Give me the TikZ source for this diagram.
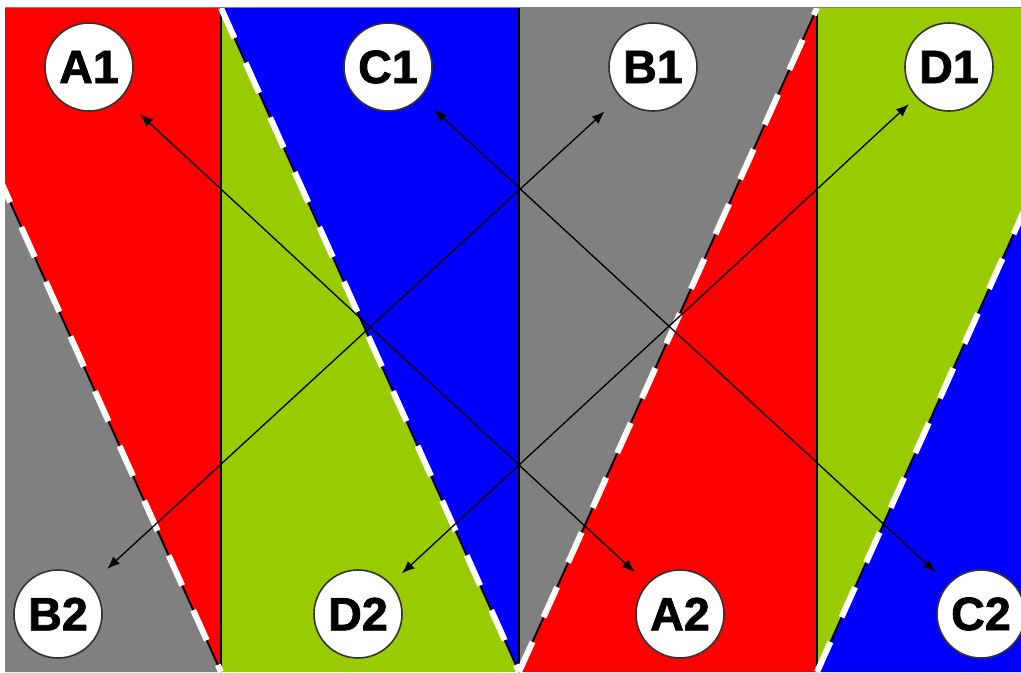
\documentclass[tikz,border=0pt]{standalone}
\usepackage{fontspec}
\setmainfont{Liberation Sans}
\newfontfamily\heavyfont[FakeBold=1.6]{Liberation Sans Bold}
\usetikzlibrary{arrows.meta}
\definecolor{cred}{HTML}{FF0000}
\definecolor{cgreen}{HTML}{99CC00}
\definecolor{cblue}{HTML}{0000FF}
\definecolor{cgray}{HTML}{808080}
\begin{document}
\begin{tikzpicture}[x=0.75pt,y=-0.75pt,
  lab/.style={circle,draw=black!80,line width=1.2pt,fill=white,minimum size=66pt,inner sep=0pt,
    font=\heavyfont\fontsize{35}{35}\selectfont},
  seamblack/.style={black,line width=1.4pt},
  seamwhite/.style={white,line width=4.5pt,dash pattern=on 24.75pt off 20.25pt},
  divider/.style={black,line width=1.5pt},
  arr/.style={{Latex[length=9.5pt,width=7.5pt]}-{Latex[length=9.5pt,width=7.5pt]},line width=1pt,black}]
\useasboundingbox (0,0) rectangle (1021,672);
\fill[white] (0,0) rectangle (1021,672);
\begin{scope}
\clip (5,8) rectangle (1021,672);
\fill[cred]   (-77,8) -- (221,8) -- (221,672) -- cycle;
\fill[cgray]  (-77,8) -- (221,672) -- (-77,672) -- cycle;
\fill[cgreen] (221,8) -- (519,672) -- (221,672) -- cycle;
\fill[cblue]  (221,8) -- (519,8) -- (519,672) -- cycle;
\fill[cgray]  (519,8) -- (817,8) -- (519,672) -- cycle;
\fill[cred]   (817,8) -- (817,672) -- (519,672) -- cycle;
\fill[cgreen] (817,8) -- (1115,8) -- (817,672) -- cycle;
\fill[cblue]  (1115,8) -- (1115,672) -- (817,672) -- cycle;
\draw[divider] (221,8) -- (221,672);
\draw[divider] (519,8) -- (519,672);
\draw[divider] (817,8) -- (817,672);
\draw[seamblack] (-77,8) -- (221,672);
\draw[seamwhite] (-77,8) -- (221,672);
\draw[seamblack] (221,8) -- (519,672);
\draw[seamwhite] (221,8) -- (519,672);
\draw[seamblack] (519,672) -- (817,8);
\draw[seamwhite] (519,672) -- (817,8);
\draw[seamblack] (817,672) -- (1115,8);
\draw[seamwhite] (817,672) -- (1115,8);
\end{scope}
\draw[black!50,line width=1.2pt] (5,7.5) -- (1021,7.5);
\node[lab] (A1) at (89,67) {A1};
\node[lab] (C1) at (388,67) {C1};
\node[lab] (B1) at (653,67) {B1};
\node[lab] (D1) at (949,67) {D1};
\node[lab] (B2) at (58,614) {B2};
\node[lab] (D2) at (358,614) {D2};
\node[lab] (A2) at (680,614) {A2};
\node[lab] (C2) at (981,614) {C2};
\draw[arr,shorten <=18.75pt,shorten >=12.75pt] (A1) -- (A2);
\draw[arr,shorten <=16.5pt,shorten >=15.75pt] (B2) -- (B1);
\draw[arr,shorten <=13.5pt,shorten >=12.75pt] (C1) -- (C2);
\draw[arr,shorten <=11.25pt,shorten >=7.5pt] (D2) -- (D1);
\end{tikzpicture}
\end{document}
